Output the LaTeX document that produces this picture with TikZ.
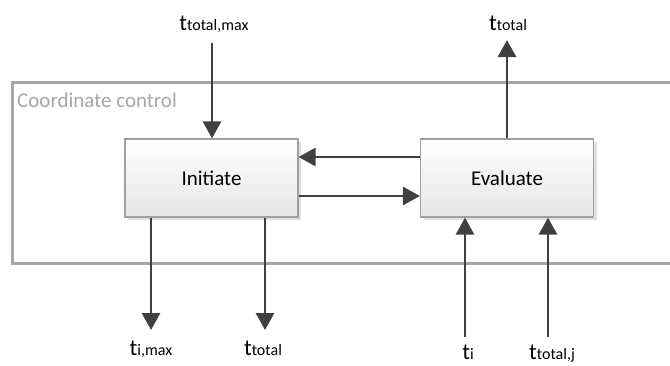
\documentclass[tikz,border=0pt]{standalone}
\usepackage{fontspec}
\setmainfont{Carlito}
\usetikzlibrary{arrows.meta,shadows}
\definecolor{framegray}{HTML}{A6A6A6}
\definecolor{arrowgray}{HTML}{404040}
\definecolor{boxedge}{HTML}{A0A0A0}
% a large t with an index set on the same baseline
\newcommand{\tsig}[1]{{\fontsize{23}{26}\selectfont t}{\fontsize{16}{18}\selectfont #1}}
\begin{document}
\begin{tikzpicture}[x=1pt,y=-1pt,
  blockbox/.style={draw=boxedge, line width=1.2pt, minimum width=173pt, minimum height=78pt,
    top color=white, bottom color=black!10, font=\fontsize{21}{24}\selectfont,
    drop shadow={shadow xshift=3pt, shadow yshift=-3pt, fill=black!12, opacity=1}},
  flow/.style={draw=arrowgray, line width=2.8pt, -{Triangle[length=17pt,width=18pt]}},
  sig/.style={inner sep=0pt, anchor=base}]
\useasboundingbox (0,0) rectangle (670,365);
% enclosing frame of the controller
\draw[framegray, line width=3pt] (680,82) -- (12,82) -- (12,263) -- (680,263);
\node[anchor=base west, text=framegray, font=\fontsize{21}{24}\selectfont, inner sep=0pt] (title) at (17,107) {Coordinate control};
% blocks
\node[blockbox] (init) at (211.5,178) {Initiate};
\node[blockbox] (eval) at (507,178) {Evaluate};
% external signals
\node[sig] (tmax) at (214,30) {\tsig{total,max}};
\node[sig] (tout) at (508,30) {\tsig{total}};
\node[sig] (timax) at (151,355) {\tsig{i,max}};
\node[sig] (ttot) at (263,355) {\tsig{total}};
\node[sig] (ti) at (468,359) {\tsig{i}};
\node[sig] (ttj) at (552,359) {\tsig{total,j}};
% ends of the free connectors
\coordinate (a1) at (212,43);
\coordinate (a2) at (507,40);
\coordinate (a3) at (151,330);
\coordinate (a4) at (265,330);
\coordinate (a5) at (465,337);
\coordinate (a6) at (548,337);
% connectors
\draw[flow] (a1) -- (init.north -| a1);
\draw[flow] (eval.north -| a2) -- (a2);
\draw[flow] (init.south -| a3) -- (a3);
\draw[flow] (init.south -| a4) -- (a4);
\draw[flow] (a5) -- (eval.south -| a5);
\draw[flow] (a6) -- (eval.south -| a6);
\draw[flow] (eval.west |- 0,157) -- (init.east |- 0,157);
\draw[flow] (init.east |- 0,196) -- (eval.west |- 0,196);
\end{tikzpicture}
\end{document}
